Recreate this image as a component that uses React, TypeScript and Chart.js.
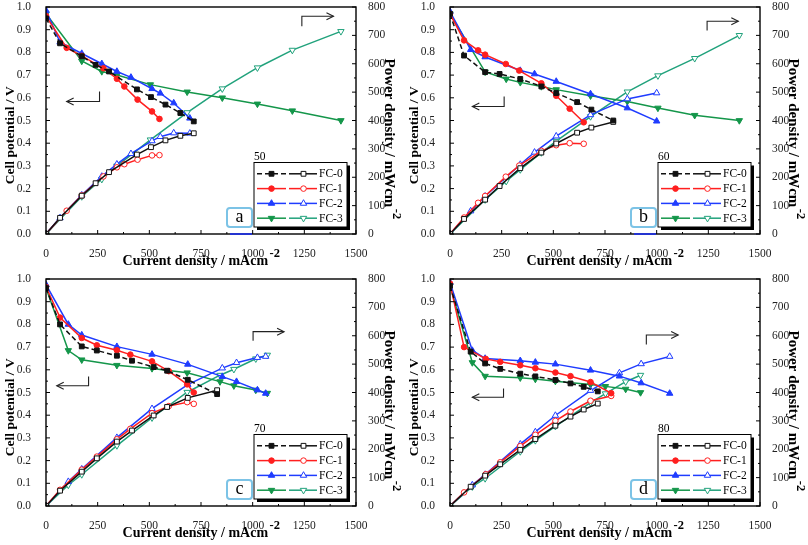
import React, { useEffect, useRef } from "react";
import { Chart, registerables } from "chart.js";
Chart.register(...registerables);

// ---------- data ----------
const names = ["FC-0", "FC-1", "FC-2", "FC-3"];
const xMax = 1500;
const xStep = 250;
const vMax = 1.0;
const vStep = 0.1;
const pMax = 800;
const pStep = 100;

// Panel a (50)
const a0x = [0, 68, 173, 240, 305, 440, 508, 578, 650, 715];
const a0v = [0.95, 0.84, 0.783, 0.745, 0.716, 0.637, 0.603, 0.57, 0.533, 0.496];
const a0p = [0, 57, 135, 179, 218, 280, 306, 330, 346, 355];
const a1x = [0, 100, 173, 278, 343, 379, 443, 513, 549];
const a1v = [0.96, 0.82, 0.785, 0.73, 0.684, 0.65, 0.592, 0.54, 0.507];
const a1p = [0, 82, 136, 203, 235, 246, 262, 277, 278];
const a2x = [0, 68, 173, 270, 343, 411, 513, 553, 618, 696];
const a2v = [0.985, 0.845, 0.795, 0.75, 0.716, 0.69, 0.64, 0.62, 0.577, 0.51];
const a2p = [0, 57, 137, 203, 246, 283, 328, 343, 356, 355];
const a3x = [0, 173, 270, 343, 505, 683, 853, 1023, 1192, 1427];
const a3v = [0.97, 0.762, 0.716, 0.7, 0.658, 0.626, 0.6, 0.573, 0.543, 0.5];
const a3p = [0, 132, 193, 240, 332, 428, 512, 586, 648, 714];

// Panel b (60)
const b0x = [0, 68, 170, 240, 340, 442, 514, 615, 684, 790];
const b0v = [0.97, 0.786, 0.713, 0.705, 0.683, 0.65, 0.621, 0.581, 0.548, 0.5];
const b0p = [0, 53, 121, 169, 232, 287, 319, 357, 375, 395];
const b1x = [0, 68, 136, 170, 270, 335, 442, 514, 579, 647];
const b1v = [0.97, 0.853, 0.809, 0.79, 0.749, 0.72, 0.664, 0.609, 0.552, 0.492];
const b1p = [0, 58, 110, 134, 202, 241, 293, 313, 320, 318];
const b2x = [0, 100, 170, 340, 409, 514, 680, 858, 1000];
const b2v = [0.98, 0.812, 0.78, 0.72, 0.705, 0.672, 0.617, 0.555, 0.497];
const b2p = [0, 81, 133, 245, 288, 345, 420, 476, 497];
const b3x = [0, 170, 272, 340, 442, 514, 680, 858, 1006, 1184, 1400];
const b3v = [0.97, 0.714, 0.683, 0.668, 0.65, 0.636, 0.609, 0.584, 0.555, 0.523, 0.5];
const b3p = [0, 121, 186, 227, 287, 327, 414, 501, 558, 619, 700];

// Panel c (70)
const c0x = [0, 68, 173, 246, 343, 416, 521, 586, 686, 828];
const c0v = [0.96, 0.8, 0.703, 0.685, 0.662, 0.64, 0.612, 0.596, 0.556, 0.493];
const c0p = [0, 54, 121, 168, 227, 266, 319, 349, 381, 408];
const c1x = [0, 68, 173, 246, 343, 408, 513, 594, 683, 715];
const c1v = [0.965, 0.83, 0.74, 0.708, 0.686, 0.667, 0.637, 0.594, 0.536, 0.5];
const c1p = [0, 57, 128, 174, 235, 272, 327, 352, 366, 360];
const c2x = [0, 108, 173, 343, 513, 686, 853, 922, 1023, 1063];
const c2v = [0.975, 0.8, 0.753, 0.702, 0.668, 0.624, 0.57, 0.548, 0.511, 0.496];
const c2p = [0, 86, 130, 241, 343, 428, 486, 505, 523, 527];
const c3x = [0, 108, 173, 343, 513, 683, 842, 909, 1015, 1071];
const c3v = [0.96, 0.685, 0.644, 0.62, 0.606, 0.587, 0.548, 0.53, 0.511, 0.497];
const c3p = [0, 74, 111, 213, 311, 401, 461, 482, 519, 532];

// Panel d (80)
const d0x = [0, 100, 170, 243, 340, 413, 510, 583, 647, 715];
const d0v = [0.97, 0.68, 0.628, 0.604, 0.583, 0.571, 0.555, 0.54, 0.525, 0.505];
const d0p = [0, 68, 107, 147, 198, 236, 283, 315, 340, 361];
const d1x = [0, 68, 173, 243, 340, 413, 510, 583, 680, 780];
const d1v = [0.98, 0.7, 0.648, 0.635, 0.62, 0.607, 0.588, 0.572, 0.546, 0.497];
const d1p = [0, 48, 112, 154, 211, 251, 300, 333, 371, 388];
const d2x = [0, 108, 170, 340, 413, 510, 680, 820, 925, 1063];
const d2v = [0.985, 0.685, 0.65, 0.64, 0.633, 0.625, 0.598, 0.572, 0.542, 0.496];
const d2p = [0, 74, 111, 218, 261, 319, 407, 469, 501, 527];
const d3x = [0, 108, 170, 340, 413, 510, 680, 752, 850, 922];
const d3v = [0.97, 0.632, 0.572, 0.565, 0.559, 0.55, 0.535, 0.527, 0.515, 0.5];
const d3p = [0, 68, 97, 192, 231, 281, 364, 396, 438, 461];

// arrow annotations: [x of stem, y start, y corner, x of tip] in data units (left axis)
const arrowsA = [[259, 0.628, 0.584, 100], [1238, 0.915, 0.959, 1391]];
const arrowsB = [[262, 0.606, 0.562, 108], [1244, 0.897, 0.937, 1395]];
const arrowsC = [[206, 0.57, 0.53, 52], [1002, 0.728, 0.768, 1152]];
const arrowsD = [[259, 0.518, 0.479, 108], [950, 0.712, 0.753, 1104]];

// ---------- styles ----------
const SERIF = '"Liberation Serif", "Times New Roman", serif';
const polColors = ["#111111", "#ff1f1f", "#1f3cff", "#14964a"];
const powColors = ["#111111", "#ff1f1f", "#1f3cff", "#21a27c"];
const pStyles = ["rect", "circle", "triangle", "triangle"];
const pRots = [0, 0, 0, 180];
const pRadii = [3.4, 2.8, 3.7, 3.7];

type Panel = {
  xs: number[][];
  vs: number[][];
  ps: number[][];
  temp: string;
  letter: string;
  arrows: number[][];
  underline: boolean;
  left: number;
  top: number;
  h: number;
};

function drawMarker(ctx: CanvasRenderingContext2D, style: string, rot: number, r: number, x: number, y: number, color: string, fill: string) {
  ctx.save();
  ctx.beginPath();
  if (style === "rect") {
    const s = r * Math.SQRT1_2;
    ctx.rect(x - s, y - s, 2 * s, 2 * s);
  } else if (style === "circle") {
    ctx.arc(x, y, r, 0, Math.PI * 2);
  } else {
    const base = (rot * Math.PI) / 180;
    for (let k = 0; k < 3; k++) {
      const ang = base - Math.PI / 2 + (k * 2 * Math.PI) / 3;
      const px = x + Math.cos(ang) * r;
      const py = y + Math.sin(ang) * r;
      if (k === 0) ctx.moveTo(px, py);
      else ctx.lineTo(px, py);
    }
    ctx.closePath();
  }
  ctx.fillStyle = fill;
  ctx.fill();
  ctx.strokeStyle = color;
  ctx.lineWidth = 1;
  ctx.stroke();
  ctx.restore();
}

function makePlugin(p: Panel) {
  return {
    id: "annot" + p.letter,
    afterDraw(chart: any) {
      const ctx: CanvasRenderingContext2D = chart.ctx;
      const ca = chart.chartArea;
      const sx = chart.scales.x;
      const sy = chart.scales.y;
      const sy2 = chart.scales.y2;
      ctx.save();
      // frame
      ctx.strokeStyle = "#000";
      ctx.lineWidth = 1.4;
      ctx.strokeRect(ca.left, ca.top, ca.right - ca.left, ca.bottom - ca.top);
      // inward ticks
      ctx.lineWidth = 1;
      const seg = (x1: number, y1: number, x2: number, y2: number) => {
        ctx.beginPath();
        ctx.moveTo(x1, y1);
        ctx.lineTo(x2, y2);
        ctx.stroke();
      };
      const xt = sx.ticks.map((t: any) => t.value);
      xt.forEach((v: number, i: number) => {
        const x = sx.getPixelForValue(v);
        seg(x, ca.bottom, x, ca.bottom - 4);
        if (i < xt.length - 1) {
          const xm = sx.getPixelForValue((v + xt[i + 1]) / 2);
          seg(xm, ca.bottom, xm, ca.bottom - 2);
        }
      });
      const yt = sy.ticks.map((t: any) => t.value);
      yt.forEach((v: number, i: number) => {
        const y = sy.getPixelForValue(v);
        seg(ca.left, y, ca.left + 4, y);
        if (i < yt.length - 1) {
          const ym = sy.getPixelForValue((v + yt[i + 1]) / 2);
          seg(ca.left, ym, ca.left + 2, ym);
        }
      });
      const y2t = sy2.ticks.map((t: any) => t.value);
      y2t.forEach((v: number, i: number) => {
        const y = sy2.getPixelForValue(v);
        seg(ca.right, y, ca.right - 4, y);
        if (i < y2t.length - 1) {
          const ym = sy2.getPixelForValue((v + y2t[i + 1]) / 2);
          seg(ca.right, ym, ca.right - 2, ym);
        }
      });

      // arrows
      ctx.strokeStyle = "#222";
      ctx.lineWidth = 1.1;
      p.arrows.forEach((a) => {
        const x0 = sx.getPixelForValue(a[0]);
        const y0 = sy.getPixelForValue(a[1]);
        const y1 = sy.getPixelForValue(a[2]);
        const x1 = sx.getPixelForValue(a[3]);
        ctx.beginPath();
        ctx.moveTo(x0, y0);
        ctx.lineTo(x0, y1);
        ctx.lineTo(x1, y1);
        ctx.stroke();
        const dir = x1 > x0 ? 1 : -1;
        ctx.beginPath();
        ctx.moveTo(x1 - dir * 7, y1 - 3.5);
        ctx.lineTo(x1, y1);
        ctx.lineTo(x1 - dir * 7, y1 + 3.5);
        ctx.stroke();
      });

      // underline segment
      if (p.underline) {
        ctx.strokeStyle = "#2434d0";
        ctx.lineWidth = 2;
        seg(ca.right - 126, ca.bottom, ca.right - 104, ca.bottom);
      }

      // letter box
      const lbx = ca.right - 129;
      const lby = ca.bottom - 26;
      ctx.strokeStyle = "#7cc3e6";
      ctx.lineWidth = 2;
      ctx.beginPath();
      (ctx as any).roundRect(lbx, lby, 25, 19, 3);
      ctx.stroke();
      ctx.fillStyle = "#000";
      ctx.font = `18px ${SERIF}`;
      ctx.textAlign = "center";
      ctx.textBaseline = "middle";
      ctx.fillText(p.letter, lbx + 12.5, lby + 9);

      // legend box
      const bx = ca.right - 102;
      const by = ca.bottom - 71.5;
      const bw = 93;
      const bh = 64.5;
      ctx.fillStyle = "#000";
      ctx.fillRect(bx + 3, by + 3, bw, bh);
      ctx.fillStyle = "#fff";
      ctx.fillRect(bx, by, bw, bh);
      ctx.strokeStyle = "#000";
      ctx.lineWidth = 1;
      ctx.strokeRect(bx, by, bw, bh);
      for (let i = 0; i < 4; i++) {
        const ry = by + 11.3 + i * 14.8;
        ctx.strokeStyle = polColors[i];
        ctx.lineWidth = 1.5;
        ctx.setLineDash(i === 0 ? [5, 3] : []);
        seg(bx + 3, ry, bx + 32, ry);
        ctx.setLineDash([]);
        drawMarker(ctx, pStyles[i], pRots[i], pRadii[i], bx + 17.5, ry, polColors[i], polColors[i]);
        ctx.strokeStyle = powColors[i];
        ctx.lineWidth = 1.5;
        seg(bx + 35, ry, bx + 63, ry);
        drawMarker(ctx, pStyles[i], pRots[i], pRadii[i], bx + 49.5, ry, powColors[i], "#fff");
        ctx.fillStyle = "#000";
        ctx.font = `11.5px ${SERIF}`;
        ctx.textAlign = "left";
        ctx.textBaseline = "middle";
        ctx.fillText(names[i], bx + 65, ry + 0.5);
      }
      // temperature label
      ctx.font = `11.5px ${SERIF}`;
      ctx.textAlign = "left";
      ctx.textBaseline = "alphabetic";
      ctx.fillText(p.temp, bx, by - 2.5);

      // x title
      const cx = (ca.left + ca.right) / 2;
      const mainX = "Current density / mAcm";
      const sup = "-2";
      const xFont = `bold 14px ${SERIF}`;
      const supFont = `bold 12.5px ${SERIF}`;
      ctx.font = xFont;
      const w1 = ctx.measureText(mainX).width;
      ctx.font = supFont;
      const w2 = ctx.measureText(sup).width;
      const sx0 = cx - (w1 + w2 + 1) / 2;
      ctx.textAlign = "left";
      ctx.textBaseline = "alphabetic";
      ctx.font = xFont;
      ctx.fillText(mainX, sx0, ca.bottom + 31);
      ctx.font = supFont;
      ctx.fillText(sup, sx0 + w1 + 1.5, ca.bottom + 23);

      // left title
      ctx.save();
      ctx.translate(11, ca.top + 0.565 * (ca.bottom - ca.top));
      ctx.rotate(-Math.PI / 2);
      ctx.font = `bold 13.5px ${SERIF}`;
      ctx.textAlign = "center";
      ctx.textBaseline = "middle";
      ctx.fillText("Cell potential / V", 0, 0);
      ctx.restore();

      // right title
      ctx.save();
      const mainR = "Power density / mWcm";
      const rFont = `bold 15px ${SERIF}`;
      ctx.font = rFont;
      const r1 = ctx.measureText(mainR).width;
      ctx.font = supFont;
      const r2 = ctx.measureText(sup).width;
      ctx.translate(389, ca.top + 0.58 * (ca.bottom - ca.top));
      ctx.rotate(Math.PI / 2);
      const rs = -(r1 + r2 + 1) / 2;
      ctx.textAlign = "left";
      ctx.textBaseline = "middle";
      ctx.font = rFont;
      ctx.fillText(mainR, rs, 0);
      ctx.font = supFont;
      ctx.fillText(sup, rs + r1 + 1.5, -7);
      ctx.restore();

      ctx.restore();
    },
  };
}

function makeConfig(p: Panel): any {
  const datasets: any[] = [];
  for (let i = 0; i < 4; i++) {
    datasets.push({
      label: names[i] + " V",
      data: p.xs[i].map((x, j) => ({ x, y: p.vs[i][j] })),
      yAxisID: "y",
      borderColor: polColors[i],
      backgroundColor: polColors[i],
      pointBackgroundColor: polColors[i],
      pointBorderColor: polColors[i],
      pointStyle: pStyles[i],
      pointRotation: pRots[i],
      pointRadius: pRadii[i],
      pointBorderWidth: 1,
      borderWidth: 1.5,
      borderDash: i === 0 ? [5, 3] : [],
      tension: 0,
    });
    datasets.push({
      label: names[i] + " P",
      data: p.xs[i].map((x, j) => ({ x, y: p.ps[i][j] })),
      yAxisID: "y2",
      borderColor: powColors[i],
      backgroundColor: "#fff",
      pointBackgroundColor: "#fff",
      pointBorderColor: powColors[i],
      pointStyle: pStyles[i],
      pointRotation: pRots[i],
      pointRadius: pRadii[i],
      pointBorderWidth: 1,
      borderWidth: 1.5,
      tension: 0,
    });
  }
  const tickFont = { family: SERIF, size: 11.5 };
  return {
    type: "line",
    data: { datasets },
    options: {
      responsive: false,
      animation: false,
      layout: { padding: { top: 7, left: 0, right: 0, bottom: 0 } },
      plugins: { legend: { display: false }, tooltip: { enabled: false } },
      scales: {
        x: {
          type: "linear",
          min: 0,
          max: xMax,
          ticks: { stepSize: xStep, font: tickFont, color: "#222", padding: 5, maxRotation: 0, autoSkip: false, callback: (v: any) => String(v) },
          grid: { display: false },
          border: { display: false },
          afterFit: (s: any) => {
            s.height = p.h - 234;
            s.paddingLeft = 0;
            s.paddingRight = 0;
          },
        },
        y: {
          position: "left",
          min: 0,
          max: vMax,
          ticks: { stepSize: vStep, font: tickFont, color: "#222", padding: 7, callback: (v: any) => Number(v).toFixed(1) },
          grid: { display: false },
          border: { display: false },
          afterFit: (s: any) => {
            s.width = 46;
            s.paddingTop = 0;
            s.paddingBottom = 0;
          },
        },
        y2: {
          position: "right",
          min: 0,
          max: pMax,
          ticks: { stepSize: pStep, font: tickFont, color: "#222", padding: 4, callback: (v: any) => String(v) },
          grid: { display: false },
          border: { display: false },
          afterFit: (s: any) => {
            s.width = 48;
            s.paddingTop = 0;
            s.paddingBottom = 0;
          },
        },
      },
    },
    plugins: [makePlugin(p)],
  };
}

const panels: Panel[] = [
  { xs: [a0x, a1x, a2x, a3x], vs: [a0v, a1v, a2v, a3v], ps: [a0p, a1p, a2p, a3p], temp: "50", letter: "a", arrows: arrowsA, underline: true, left: 0, top: 0, h: 272 },
  { xs: [b0x, b1x, b2x, b3x], vs: [b0v, b1v, b2v, b3v], ps: [b0p, b1p, b2p, b3p], temp: "60", letter: "b", arrows: arrowsB, underline: true, left: 404, top: 0, h: 272 },
  { xs: [c0x, c1x, c2x, c3x], vs: [c0v, c1v, c2v, c3v], ps: [c0p, c1p, c2p, c3p], temp: "70", letter: "c", arrows: arrowsC, underline: false, left: 0, top: 272, h: 273 },
  { xs: [d0x, d1x, d2x, d3x], vs: [d0v, d1v, d2v, d3v], ps: [d0p, d1p, d2p, d3p], temp: "80", letter: "d", arrows: arrowsD, underline: false, left: 404, top: 272, h: 273 },
];

function PanelChart({ p }: { p: Panel }) {
  const ref = useRef<HTMLCanvasElement>(null);
  useEffect(() => {
    const chart = new Chart(ref.current as HTMLCanvasElement, makeConfig(p));
    return () => chart.destroy();
  }, []);
  return (
    <canvas
      ref={ref}
      width={404}
      height={p.h}
      style={{ position: "absolute", left: p.left, top: p.top, width: 404, height: p.h }}
    />
  );
}

export default function App() {
  return (
    <div style={{ position: "fixed", left: 0, top: 0, width: 808, height: 545, background: "#fff", overflow: "hidden" }}>
      {panels.map((p) => (
        <PanelChart key={p.letter} p={p} />
      ))}
    </div>
  );
}
